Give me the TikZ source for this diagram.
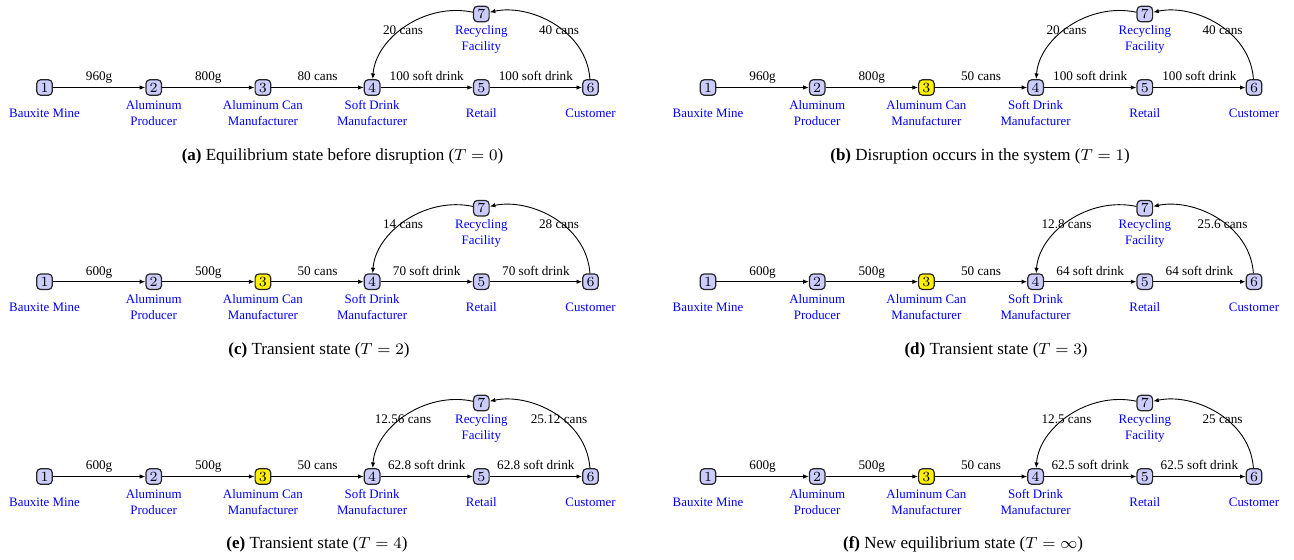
\documentclass[tikz,border=0pt]{standalone}
\usepackage{fontspec}
\setmainfont{Liberation Serif}
\usetikzlibrary{arrows.meta}
\tikzset{
  stnode/.style={draw=black!85, line width=0.6pt, rounded corners=2pt, fill=blue!20,
    minimum width=7.8pt, minimum height=7.8pt, inner sep=0pt, font=\fontsize{6.8}{8}\selectfont},
  namelab/.style={text=blue, align=center, font=\fontsize{6.45}{7.8}\selectfont, inner sep=0pt},
  flow/.style={line width=0.45pt, -{Latex[length=2.8pt,width=2.2pt]}},
  elab/.style={font=\fontsize{6.6}{8}\selectfont, inner sep=0pt, anchor=base},
  capt/.style={font=\fontsize{8.5}{10}\selectfont, inner sep=0pt, anchor=base}
}
\newcommand\pfx{a}
% #1,#2 offset; #3 fill of node 3; #4 e12; #5 e23; #6 e34; #7 e45=e56; #8 e74; #9 e67
\newcommand\supplypanel[9]{%
\begin{scope}[shift={(#1,#2)}, name prefix=\pfx-]
  \node[stnode] (n1) at (0,0) {$1$};
  \node[stnode] (n2) at (109.2,0) {$2$};
  \node[stnode, fill=#3] (n3) at (218.4,0) {$3$};
  \node[stnode] (n4) at (327.6,0) {$4$};
  \node[stnode] (n5) at (436.8,0) {$5$};
  \node[stnode] (n6) at (546,0) {$6$};
  \node[stnode] (n7) at (436.8,73.5) {$7$};
  \node[namelab] (l1) at (0,-25.5) {Bauxite Mine};
  \node[namelab] (l2) at (109.2,-25.5) {Aluminum\\Producer};
  \node[namelab] (l3) at (218.4,-25.5) {Aluminum Can\\Manufacturer};
  \node[namelab] (l4) at (327.6,-25.5) {Soft Drink\\Manufacturer};
  \node[namelab] (l5) at (436.8,-25.5) {Retail};
  \node[namelab] (l6) at (546,-25.5) {Customer};
  \node[namelab] (l7) at (436.8,48) {Recycling\\Facility};
  \draw[flow] (n1) -- node[elab, midway, yshift=3.3pt] {#4} (n2);
  \draw[flow] (n2) -- node[elab, midway, yshift=3.3pt] {#5} (n3);
  \draw[flow] (n3) -- node[elab, midway, yshift=3.3pt] {#6} (n4);
  \draw[flow] (n4) -- node[elab, midway, yshift=3.3pt] {#7} (n5);
  \draw[flow] (n5) -- node[elab, midway, yshift=3.3pt] {#7} (n6);
  \draw[flow] (n7) to[out=168, in=86] (n4) node[elab] at (358.5,53) {#8};
  \draw[flow] (n6) to[out=94, in=12] (n7) node[elab] at (514.5,53) {#9};
\end{scope}}
\begin{document}
\begin{tikzpicture}[x=0.5pt, y=0.5pt]
  \useasboundingbox (0,0) rectangle (1294,-559);
  \renewcommand\pfx{a}
  \supplypanel{44.5}{-87.5}{blue!20}{960g}{800g}{80 cans}{100 soft drink}{20 cans}{40 cans}
  \renewcommand\pfx{b}
  \supplypanel{708}{-87.5}{yellow}{960g}{800g}{50 cans}{100 soft drink}{20 cans}{40 cans}
  \renewcommand\pfx{c}
  \supplypanel{44.5}{-281.7}{yellow}{600g}{500g}{50 cans}{70 soft drink}{14 cans}{28 cans}
  \renewcommand\pfx{d}
  \supplypanel{708}{-281.7}{yellow}{600g}{500g}{50 cans}{64 soft drink}{12.8 cans}{25.6 cans}
  \renewcommand\pfx{e}
  \supplypanel{44.5}{-476.5}{yellow}{600g}{500g}{50 cans}{62.8 soft drink}{12.56 cans}{25.12 cans}
  \renewcommand\pfx{f}
  \supplypanel{708}{-476.5}{yellow}{600g}{500g}{50 cans}{62.5 soft drink}{12.5 cans}{25 cans}
  \node[capt] (ca) at (342.5,-160.5) {\textbf{(a)} Equilibrium state before disruption ($T=0$)};
  \node[capt] (cb) at (980,-160.5) {\textbf{(b)} Disruption occurs in the system ($T=1$)};
  \node[capt] (cc) at (319,-354.5) {\textbf{(c)} Transient state ($T=2$)};
  \node[capt] (cd) at (996,-354.5) {\textbf{(d)} Transient state ($T=3$)};
  \node[capt] (ce) at (317,-548.5) {\textbf{(e)} Transient state ($T=4$)};
  \node[capt] (cf) at (963,-548.5) {\textbf{(f)} New equilibrium state ($T=\infty$)};
\end{tikzpicture}
\end{document}
